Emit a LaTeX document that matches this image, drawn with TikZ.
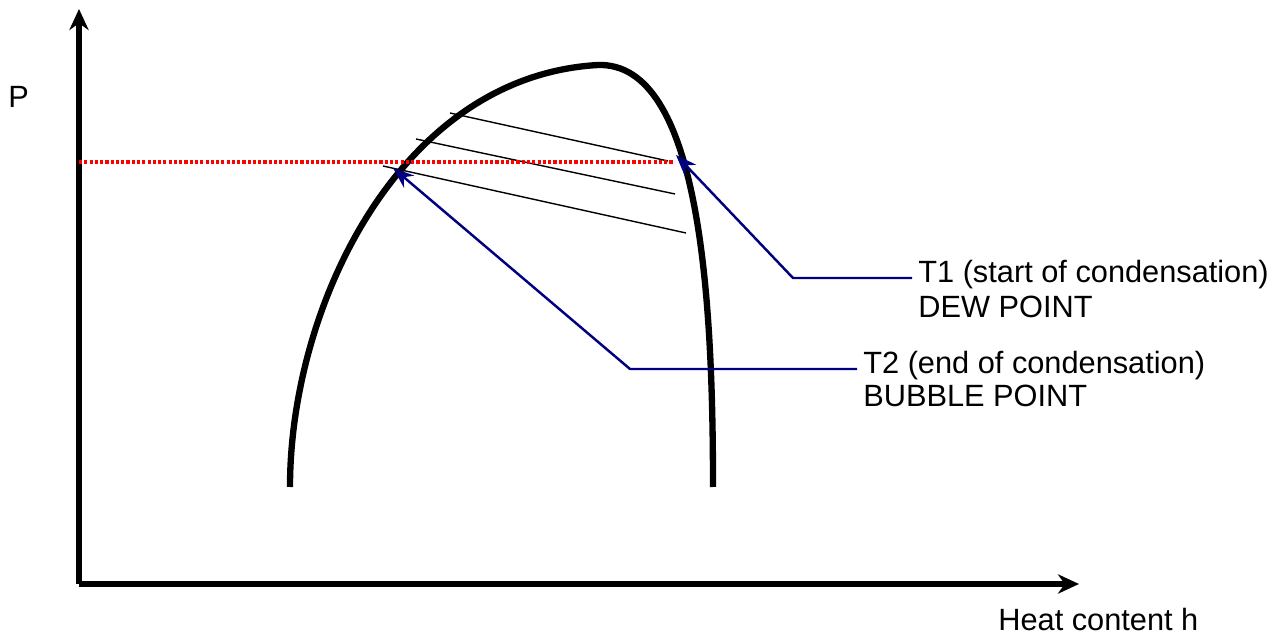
\documentclass[tikz,border=0pt]{standalone}
\usepackage{fontspec}
\setmainfont{Liberation Sans}
\usetikzlibrary{arrows.meta}
\definecolor{PHNavy}{HTML}{000080}
\definecolor{PHRed}{HTML}{FF0000}
\tikzset{
  axisline/.style={line width=3.2pt,-{Stealth[length=12pt,width=11pt]}},
  envelope/.style={line width=3.6pt},
  tieline/.style={line width=0.8pt},
  pointer/.style={PHNavy,line width=1.4pt},
  label/.style={anchor=west,font=\fontsize{17.5}{20}\selectfont,inner sep=0pt}
}
\begin{document}
\begin{tikzpicture}[x=0.02cm,y=0.02cm]
\path[use as bounding box] (0,0) rectangle (1285,636);
\coordinate (origin) at (79,52);
\coordinate (ptop) at (79,627);
\coordinate (hend) at (1079,52);
\draw[axisline] (origin) -- (ptop);
\draw[axisline] (origin) -- (hend);
\node[label] (plabel) at (8,539) {P};
\node[label] (hlabel) at (998,16) {Heat content h};
\draw[envelope] (290,149) .. controls (290,330) and (400,560) .. (598,571)
  .. controls (700,574) and (713,340) .. (713,149);
\draw[tieline] (450,523) -- (668,475);
\draw[tieline] (416,497) -- (675,442);
\draw[tieline] (383,470) -- (686,403);
\draw[PHRed,line width=2pt,dash pattern=on 1.8pt off 1.2pt] (79,474) -- (673,474);
\coordinate (dew) at (676,481);
\coordinate (dewknee) at (793,358);
\coordinate (bubble) at (393,468);
\coordinate (bubbleknee) at (630,267);
\node[label] (t1) at (918,361) {T1 (start of condensation)};
\node[label] (dewtext) at (918,329) {DEW POINT};
\node[label] (t2) at (863,270) {T2 (end of condensation)};
\node[label] (bubbletext) at (863,240) {BUBBLE POINT};
\coordinate (t1end) at ([xshift=-0.12cm]t1.west |- dewknee);
\coordinate (t2end) at ([xshift=-0.12cm]t2.west |- bubbleknee);
\draw[pointer,-{Stealth[length=12pt,width=9pt]}] (t1end) -- (dewknee) -- (dew);
\draw[pointer,-{Stealth[length=12pt,width=9pt]}] (t2end) -- (bubbleknee) -- (bubble);
\end{tikzpicture}
\end{document}
